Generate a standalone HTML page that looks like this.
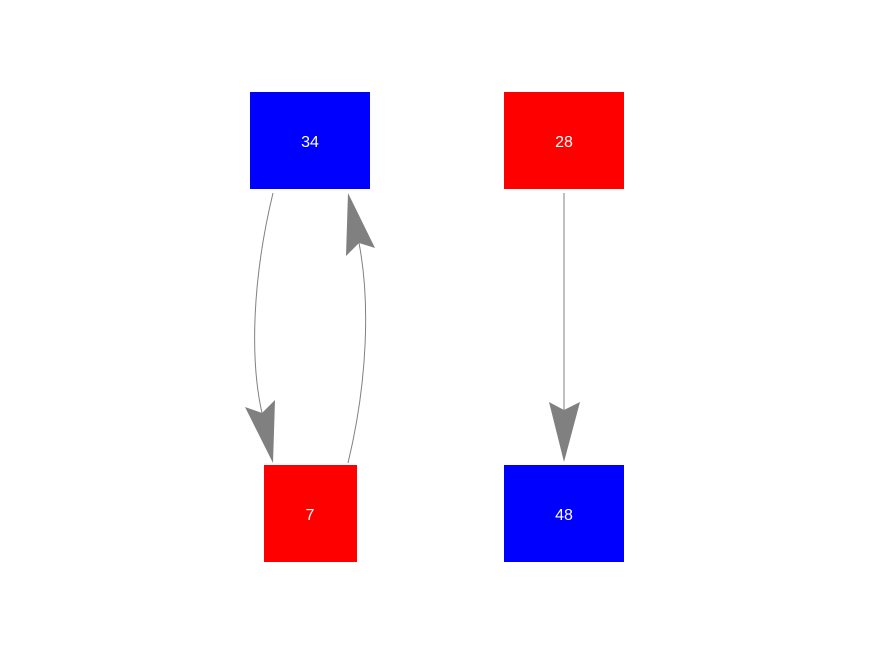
<!DOCTYPE html>
<html><head><meta charset="utf-8"><style>
html,body{margin:0;padding:0;background:#fff;}
svg{display:block;}
text{font-family:"Liberation Sans",sans-serif;font-size:16px;fill:#fff;}
</style></head><body>
<svg width="876" height="656" viewBox="0 0 876 656" xmlns="http://www.w3.org/2000/svg">
<rect x="250" y="92" width="120" height="97" fill="#0000ff"/>
<rect x="504" y="92" width="120" height="97" fill="#ff0000"/>
<rect x="264" y="465" width="93" height="97" fill="#ff0000"/>
<rect x="504" y="465" width="120" height="97" fill="#0000ff"/>
<text x="310" y="147" text-anchor="middle">34</text>
<text x="564" y="147" text-anchor="middle">28</text>
<text x="310" y="520" text-anchor="middle">7</text>
<text x="564" y="520" text-anchor="middle">48</text>
<g fill="none" stroke="#808080" stroke-width="1">
<path d="M273,193 C252,280 250,360 262,413"/>
<path d="M348,463 C368,380 370,300 359,243"/>
<path d="M564,193 L564,410"/>
</g>
<g fill="#808080">
<polygon points="273,463 245,407 262,413 275,400"/>
<polygon points="348,193 375,248 359,243 346,256"/>
<polygon points="564,462 549,402 564,410 580,402"/>
</g>
</svg>
</body></html>
